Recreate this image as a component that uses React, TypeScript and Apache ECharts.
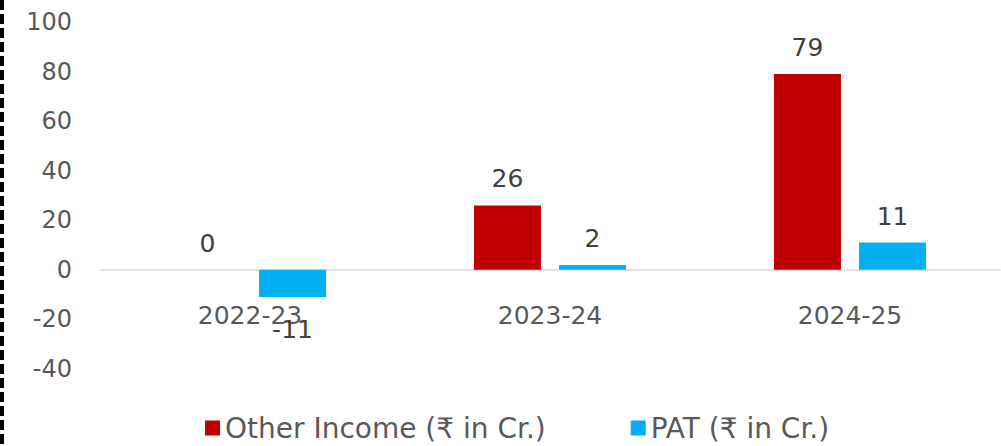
import React, { useEffect, useRef } from "react";
import * as echarts from "echarts";

const categories = ["2022-23", "2023-24", "2024-25"];
const otherIncome = [0, 26, 79];
const pat = [-11, 2, 11];
const yTicks = { min: -40, max: 100, interval: 20 };
const seriesNames = ["Other Income (₹ in Cr.)", "PAT (₹ in Cr.)"];

const FONT = "DejaVu Sans";
const TXT = "#595959";

export default function App() {
  const ref = useRef<HTMLDivElement>(null);
  useEffect(() => {
    document.body.style.margin = "0";
    const chart = echarts.init(ref.current!, null, { renderer: "svg" });
    const toData = (arr: number[]) =>
      arr.map((v) => ({
        value: v,
        label: v < 0 ? { position: "bottom", distance: 20 } : { position: "top" },
      }));
    const labelStyle = {
      show: true,
      fontFamily: FONT,
      fontSize: 25,
      color: "#404040",
      distance: 14,
    };
    chart.setOption({
      animation: false,
      textStyle: { fontFamily: FONT },
      grid: { left: 100, right: 1, top: 22, bottom: 77, containLabel: false },
      legend: {
        bottom: -1,
        left: 200,
        itemWidth: 15,
        itemHeight: 15,
        itemGap: 85,
        icon: "rect",
        textStyle: { fontFamily: FONT, fontSize: 28, color: TXT },
        data: seriesNames,
      },
      xAxis: {
        type: "category",
        data: categories,
        axisLine: { show: true, onZero: true, lineStyle: { color: "#d9d9d9", width: 1.5 } },
        axisTick: { show: false },
        axisLabel: { fontFamily: FONT, fontSize: 25, color: TXT, margin: -66 },
      },
      yAxis: {
        type: "value",
        min: yTicks.min,
        max: yTicks.max,
        interval: yTicks.interval,
        splitLine: { show: false },
        axisLine: { show: false },
        axisTick: { show: false },
        axisLabel: { fontFamily: FONT, fontSize: 24, color: TXT, margin: 28 },
      },
      series: [
        {
          name: seriesNames[0],
          type: "bar",
          data: toData(otherIncome),
          barWidth: 67,
          barGap: "27%",
          itemStyle: { color: "#c00000" },
          label: labelStyle,
        },
        {
          name: seriesNames[1],
          type: "bar",
          data: toData(pat),
          barWidth: 67,
          itemStyle: { color: "#00b0f0" },
          label: labelStyle,
        },
      ],
      graphic: [
        {
          type: "line",
          shape: { x1: 2, y1: 0, x2: 2, y2: 446 },
          style: { stroke: "#000", lineWidth: 4, lineDash: [10, 4] },
        },
      ],
    });
    return () => chart.dispose();
  }, []);
  return <div ref={ref} style={{ width: 1001, height: 446 }} />;
}
